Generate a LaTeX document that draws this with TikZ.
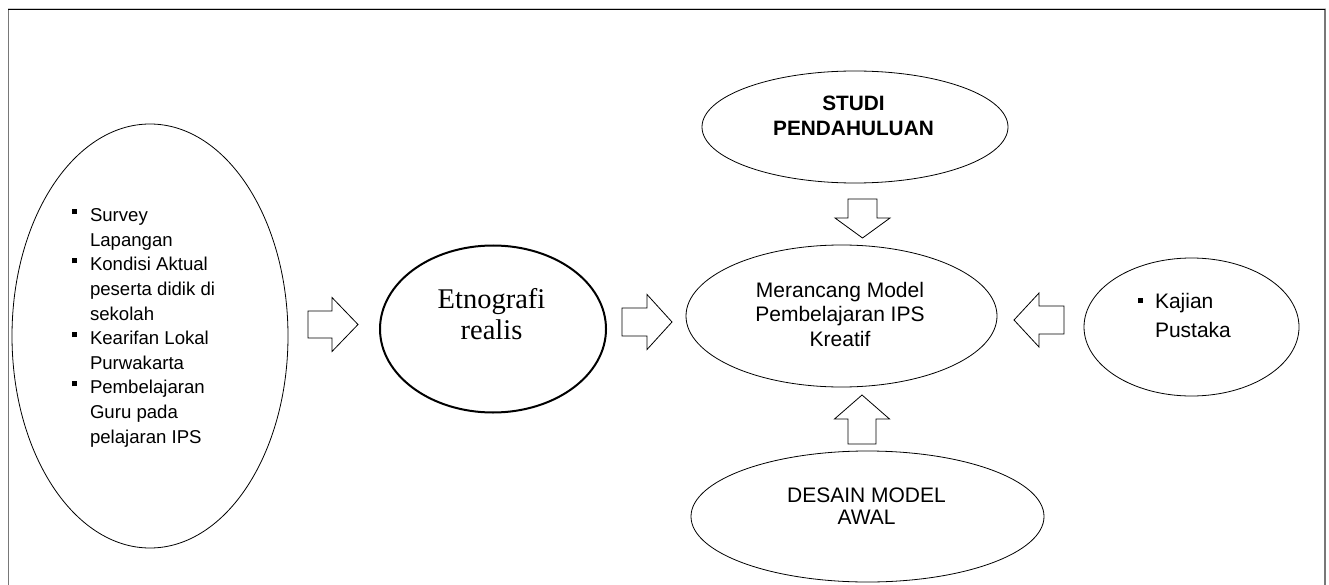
\documentclass[tikz,border=0pt]{standalone}
\usepackage{fontspec}
\setmainfont{Liberation Sans}
\newfontfamily\timesfont{Liberation Serif}
\usetikzlibrary{shapes.geometric}

% square list bullet: #1 box width, #2 raise above baseline
\newcommand\sqbul[2]{\makebox[#1][l]{\rule[#2]{5bp}{5bp}}}

% hollow block arrow: #1 base point, #2 angle, #3 total length,
% #4 shaft length, #5 half shaft width, #6 half head width
\newcommand\blockarrow[6]{%
  \draw[arrowline, shift={#1}, rotate=#2]
    (0,-#5) -- (#4,-#5) -- (#4,-#6) -- (#3,0) -- (#4,#6) -- (#4,#5) -- (0,#5) -- cycle;}

\definecolor{framegray}{RGB}{120,120,120}

\begin{document}
\begin{tikzpicture}[x=1bp, y=-1bp,
  bubble/.style={draw=black, ellipse, line width=0.8bp, inner sep=0pt, outer sep=0pt},
  arrowline/.style={draw=black, line width=0.8bp, fill=white, line join=miter},
  txt/.style={inner sep=0pt, outer sep=0pt},
  body/.style={font=\fontsize{21bp}{24.4bp}\selectfont}
]
\useasboundingbox (0,0) rectangle (1329,585);

% page frame
\draw[line width=0.8bp, black!20] (8,8) -- (1326,8);
\draw[line width=1.3bp, framegray] (8.7,9) -- (8.7,585);
\draw[line width=2bp, framegray] (1325.3,9) -- (1325.3,585);
\draw[line width=1.4bp, black] (8,9.6) -- (1324.5,9.6);

% ellipses
\node[bubble, minimum width=276bp, minimum height=424bp] (field) at (150,336) {};
\node[bubble, line width=2bp, minimum width=226bp, minimum height=167bp] (etno) at (493,329) {};
\node[bubble, minimum width=306bp, minimum height=112bp] (studi) at (855,127) {};
\node[bubble, minimum width=311bp, minimum height=142bp] (model) at (841.5,316) {};
\node[bubble, minimum width=215bp, minimum height=138bp] (kajian) at (1191.5,327) {};
\node[bubble, minimum width=353bp, minimum height=131bp] (desain) at (867.5,516.5) {};

% texts
\node[txt, anchor=base west, font=\fontsize{18.6bp}{24.6bp}\selectfont] (fieldtext) at (71.7,221.7)
  {\begin{tabular}[t]{@{}l@{}}
   \sqbul{18.3bp}{7.5bp}Survey\\
   \hspace*{18.3bp}Lapangan\\
   \sqbul{18.3bp}{7.5bp}Kondisi Aktual\\
   \hspace*{18.3bp}peserta didik di\\
   \hspace*{18.3bp}sekolah\\
   \sqbul{18.3bp}{7.5bp}Kearifan Lokal\\
   \hspace*{18.3bp}Purwakarta\\
   \sqbul{18.3bp}{7.5bp}Pembelajaran\\
   \hspace*{18.3bp}Guru pada\\
   \hspace*{18.3bp}pelajaran IPS
   \end{tabular}};

\node[txt, anchor=base, font=\timesfont\fontsize{28.5bp}{31bp}\selectfont] (etnotext) at (491.5,308.5)
  {\begin{tabular}[t]{@{}c@{}}Etnografi\\realis\end{tabular}};

\node[txt, anchor=base, font=\bfseries\fontsize{20.8bp}{25.3bp}\selectfont] (studitext) at (853.5,110.7)
  {\begin{tabular}[t]{@{}c@{}}STUDI\\PENDAHULUAN\end{tabular}};

\node[txt, anchor=base, body] (modeltext) at (840,297.5)
  {\begin{tabular}[t]{@{}c@{}}Merancang Model\\Pembelajaran IPS\\Kreatif\end{tabular}};

\node[txt, anchor=base west, font=\fontsize{21bp}{28.5bp}\selectfont] (kajiantext) at (1137.7,308.5)
  {\begin{tabular}[t]{@{}l@{}}\sqbul{17.3bp}{5.3bp}Kajian\\\hspace*{17.3bp}Pustaka\end{tabular}};

\node[txt, anchor=base, font=\fontsize{21bp}{22.5bp}\selectfont] (desaintext) at (866.5,502)
  {\begin{tabular}[t]{@{}c@{}}DESAIN MODEL\\AWAL\end{tabular}};

% block arrows between the ellipses
\coordinate (a1) at (308,324.5);
\coordinate (a2) at (622,322);
\coordinate (a3) at (1064,320);
\coordinate (a4) at (862.5,199);
\coordinate (a5) at (862,444);
\blockarrow{(a1)}{0}{50}{24}{13.5}{27}
\blockarrow{(a2)}{0}{50}{25}{14}{27.5}
\blockarrow{(a3)}{180}{50}{25}{14}{27}
\blockarrow{(a4)}{-90}{39}{19}{14.5}{27.5}
\blockarrow{(a5)}{90}{49}{25}{14}{27.5}
\end{tikzpicture}
\end{document}
